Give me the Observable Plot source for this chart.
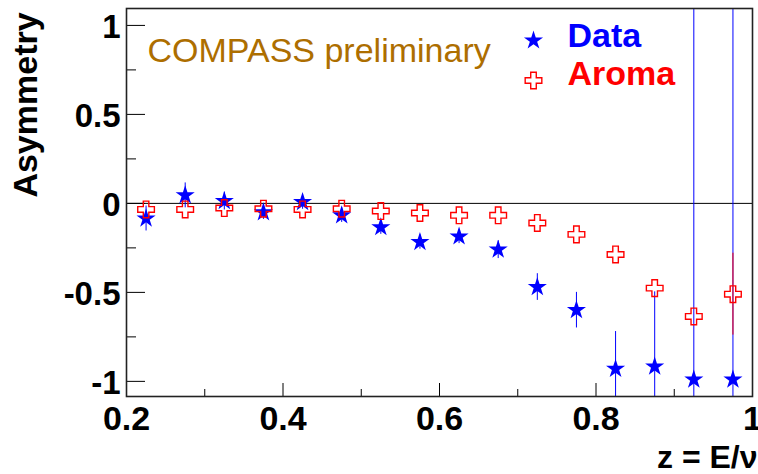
<!DOCTYPE html>
<html>
<head>
<meta charset="utf-8">
<script src="https://cdn.jsdelivr.net/npm/d3@7"></script>
<script src="https://cdn.jsdelivr.net/npm/@observablehq/plot@0.6"></script>
<style>
  html, body { margin: 0; padding: 0; background: #fff; }
</style>
</head>
<body>
<div id="chart"></div>
<script>
// ---- data ----
const zBins      = [0.225, 0.275, 0.325, 0.375, 0.425, 0.475, 0.525, 0.575, 0.625, 0.675, 0.725, 0.775, 0.825, 0.875, 0.925, 0.975];
const dataAsym   = [-0.085, 0.045, 0.013, -0.05, 0.007, -0.067, -0.134, -0.217, -0.186, -0.26, -0.47, -0.60, -0.93, -0.917, -0.99, -0.99];
const dataErr    = [0.07, 0.07, 0.05, 0.04, 0.04, 0.04, 0.04, 0.04, 0.04, 0.05, 0.075, 0.10, 0.21, 0.42, 3.0, 3.0];
const aromaAsym  = [-0.034, -0.034, -0.026, -0.03, -0.034, -0.03, -0.043, -0.054, -0.067, -0.067, -0.11, -0.174, -0.287, -0.476, -0.635, -0.51];
const aromaErr   = [0, 0, 0, 0, 0, 0, 0, 0, 0, 0, 0, 0, 0, 0, 0, 0.23];

const xMajorTicks = [0.2, 0.4, 0.6, 0.8, 1.0];
const xMinorTicks = [0.3, 0.5, 0.7, 0.9];
const yMajorTicks = [-1, -0.5, 0, 0.5, 1];
const yMinorTicks = [-0.75, -0.25, 0.25, 0.75];

const seriesNames = ["Data", "Aroma"];
const titleText   = "COMPASS preliminary";
const xLabel      = "z = E/\u03BD";
const yLabel      = "Asymmetry";

// ---- tables built from the arrays ----
const dataRows  = zBins.map((z, i) => ({z, a: dataAsym[i], e: dataErr[i]}));
const aromaRows = zBins.map((z, i) => ({z, a: aromaAsym[i], e: aromaErr[i]}));

const W = 758, H = 474;
const mL = 126, mR = 6, mT = 8, mB = 78;
const plotW = W - mL - mR, plotH = H - mT - mB;

const BLUE = "#0000ff", RED = "#ff0000", BROWN = "#ad6e00";
const FONT = "'Liberation Sans', Arial, Helvetica, sans-serif";

const chart = Plot.plot({
  width: W, height: H,
  marginLeft: mL, marginRight: mR, marginTop: mT, marginBottom: mB,
  style: {fontFamily: FONT, background: "#fff", color: "#000"},
  x: {domain: [0.2, 1.0]},
  y: {domain: [-1.085, 1.095]},
  marks: [
    // axis labels
    Plot.axisX({ticks: xMajorTicks, tickSize: 0, tickPadding: 9, fontSize: 34, fontWeight: "bold",
                tickFormat: d => String(+d.toFixed(1)), label: null}),
    Plot.axisY({ticks: yMajorTicks, tickSize: 0, tickPadding: 6, fontSize: 33, fontWeight: "bold",
                tickFormat: d => String(d), label: null, dy: 2}),
    // inward ticks
    Plot.tickX(xMajorTicks, {x: d => d, insetTop: plotH - 13, stroke: "#000", strokeWidth: 1}),
    Plot.tickX(xMinorTicks, {x: d => d, insetTop: plotH - 7, stroke: "#000", strokeWidth: 1}),
    Plot.tickY(yMajorTicks, {y: d => d, insetRight: plotW - 19, stroke: "#000", strokeWidth: 1}),
    Plot.tickY(yMinorTicks, {y: d => d, insetRight: plotW - 10, stroke: "#000", strokeWidth: 1}),
    // zero line
    Plot.ruleY([0], {stroke: "#000", strokeWidth: 1}),
    // data error bars + markers
    Plot.ruleX(dataRows, {x: "z", y1: d => d.a - d.e, y2: d => d.a + d.e, stroke: BLUE, strokeWidth: 1, clip: true}),
    Plot.dot(dataRows, {x: "z", y: "a", symbol: "star", r: 6, fill: BLUE, stroke: "none"}),
    // aroma error bars + markers
    Plot.ruleX(aromaRows.filter(d => d.e > 0), {x: "z", y1: d => d.a - d.e, y2: d => d.a + d.e, stroke: RED, strokeWidth: 1, clip: true}),
    Plot.dot(aromaRows, {x: "z", y: "a", symbol: "cross", r: 7, fill: "none", stroke: RED, strokeWidth: 1.4}),
    // frame
    Plot.frame({stroke: "#222", strokeWidth: 1.6}),
    // legend
    Plot.dot([seriesNames[0]], {frameAnchor: "top-left", dx: 407, dy: 32, symbol: "star", r: 6, fill: BLUE, stroke: "none"}),
    Plot.dot([seriesNames[1]], {frameAnchor: "top-left", dx: 407, dy: 72, symbol: "cross", r: 7, fill: "none", stroke: RED, strokeWidth: 1.4}),
    Plot.text([seriesNames[0]], {text: d => d, frameAnchor: "top-left", dx: 441, dy: 28, textAnchor: "start", lineAnchor: "middle",
              fontSize: 34, fontWeight: "bold", fill: BLUE}),
    Plot.text([seriesNames[1]], {text: d => d, frameAnchor: "top-left", dx: 441, dy: 66, textAnchor: "start", lineAnchor: "middle",
              fontSize: 34, fontWeight: "bold", fill: RED}),
    // title inside plot
    Plot.text([titleText], {text: d => d, frameAnchor: "top-left", dx: 21, dy: 43, textAnchor: "start", lineAnchor: "middle",
              fontSize: 34, fill: BROWN}),
    // axis titles
    Plot.text([xLabel], {text: d => d, frameAnchor: "bottom-right", dx: 5, dy: 61, textAnchor: "end", lineAnchor: "middle",
              fontSize: 32, fontWeight: "bold", fill: "#000"}),
    Plot.text([yLabel], {text: d => d, frameAnchor: "top-left", dx: -100, dy: 96.5, rotate: -90, textAnchor: "middle", lineAnchor: "middle",
              fontSize: 34, fontWeight: "bold", fill: "#000"})
  ]
});
document.getElementById("chart").appendChild(chart);
</script>
</body>
</html>
